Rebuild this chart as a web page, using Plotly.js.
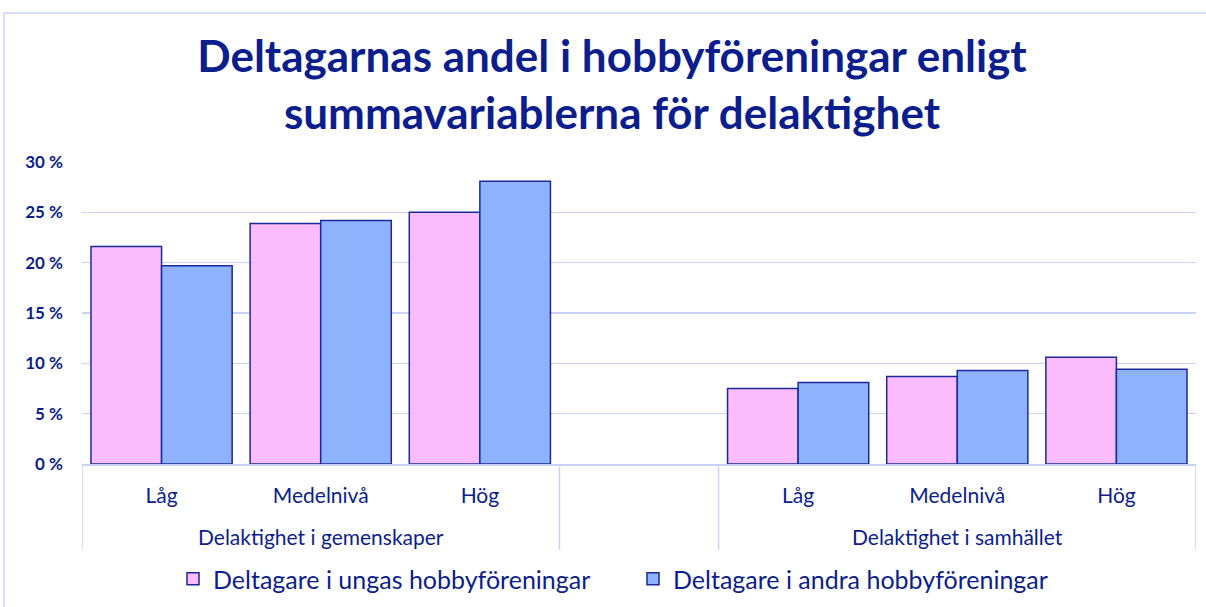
<!DOCTYPE html>
<html>
<head>
<meta charset="utf-8">
<script src="https://cdn.plot.ly/plotly-3.0.1.min.js"></script>
<style>
  html, body { margin: 0; padding: 0; background: #ffffff; }
  #chart { width: 1206px; height: 607px; }
</style>
</head>
<body>
<div id="chart"></div>
<script>
// Data
var groups = ["Delaktighet i gemenskaper", "Delaktighet i gemenskaper", "Delaktighet i gemenskaper", "", "Delaktighet i samhället", "Delaktighet i samhället", "Delaktighet i samhället"];
var levels = ["Låg", "Medelnivå", "Hög", "", "Låg", "Medelnivå", "Hög"];
var seriesNames = ["Deltagare i ungas hobbyföreningar", "Deltagare i andra hobbyföreningar"];
var ungas = [21.6, 23.9, 25.0, null, 7.5, 8.7, 10.6];
var andra = [19.7, 24.2, 28.1, null, 8.1, 9.3, 9.4];
var yTicks = [0, 5, 10, 15, 20, 25, 30];

var navy = "#0c1e8c";
var grid = "#c9d3fa";
var font = "Lato, 'Open Sans', sans-serif";

var idx = levels.map(function (_, i) { return i; });

var traces = [
  {
    type: "bar", name: seriesNames[0], x: idx, y: ungas,
    marker: { color: "#fbbcfd", line: { color: "#1b2a96", width: 1.5 } },
    hoverinfo: "skip"
  },
  {
    type: "bar", name: seriesNames[1], x: idx, y: andra,
    marker: { color: "#8fb2fd", line: { color: "#1b2a96", width: 1.5 } },
    hoverinfo: "skip"
  }
];

// group labels & dividers derived from the groups array
var annotations = [];
var shapes = [];
var start = 0;
for (var i = 1; i <= groups.length; i++) {
  if (i === groups.length || groups[i] !== groups[start]) {
    if (groups[start]) {
      annotations.push({
        xref: "x", yref: "paper", x: (start + i - 1) / 2, y: -(536 - 464) / 302,
        xanchor: "center", yanchor: "middle", showarrow: false,
        text: groups[start], font: { family: font, size: 21, color: navy }
      });
    }
    shapes.push({
      type: "line", xref: "x", yref: "paper", x0: i - 0.5, x1: i - 0.5,
      y0: 0, y1: -(550 - 464) / 302, line: { color: grid, width: 1.5 }
    });
    start = i;
  }
}
shapes.push({
  type: "line", xref: "x", yref: "paper", x0: -0.5, x1: -0.5,
  y0: 0, y1: -(550 - 464) / 302, line: { color: grid, width: 1.5 }
});
// outer chart frame
shapes.push({
  type: "line", xref: "paper", yref: "paper",
  x0: (4 - 82) / 1114, x1: (4 - 82) / 1114, y0: -1, y1: (464 - 13) / 302,
  line: { color: grid, width: 1.5 }
});
shapes.push({
  type: "line", xref: "paper", yref: "paper",
  x0: (4 - 82) / 1114, x1: 1.2, y0: (464 - 13) / 302, y1: (464 - 13) / 302,
  line: { color: grid, width: 1.5 }
});

var layout = {
  width: 1206, height: 607,
  margin: { l: 82, r: 10, t: 162, b: 143, autoexpand: false },
  paper_bgcolor: "#ffffff", plot_bgcolor: "#ffffff",
  font: { family: font, color: navy },
  title: {
    text: "Deltagarnas andel i hobbyföreningar enligt<br>summavariablerna för delaktighet",
    font: { family: font, size: 44, color: navy, weight: "bold" },
    x: 612 / 1206, xanchor: "center", xref: "container",
    y: 1 - 72 / 607, yanchor: "middle", yref: "container"
  },
  barmode: "group",
  bargap: 0.113,
  bargroupgap: 0,
  showlegend: true,
  legend: {
    orientation: "h", x: (173 - 82) / 1114, xanchor: "left", y: -(579 - 464) / 302, yanchor: "middle",
    font: { family: font, size: 25, color: navy },
    itemwidth: 30, traceorder: "normal",
    entrywidth: 415, entrywidthmode: "pixels"
  },
  xaxis: {
    range: [-0.5, levels.length - 0.5],
    tickmode: "array", tickvals: idx, ticktext: levels,
    showgrid: false, zeroline: false, automargin: false,
    showline: true, linecolor: grid, linewidth: 1.5,
    ticks: "", ticklabelstandoff: 12,
    tickfont: { family: font, size: 21, color: navy }
  },
  yaxis: {
    range: [0, 30], tickmode: "array", tickvals: yTicks,
    ticktext: yTicks.map(function (v) { return v + " %"; }),
    showgrid: true, gridcolor: grid, gridwidth: 1.5, automargin: false,
    zeroline: false, showline: false,
    tickfont: { family: font, size: 17, color: navy, weight: "bold" },
    ticklabelstandoff: 18
  },
  annotations: annotations,
  shapes: shapes
};

Plotly.newPlot("chart", traces, layout, { displayModeBar: false, staticPlot: true });
</script>
</body>
</html>
